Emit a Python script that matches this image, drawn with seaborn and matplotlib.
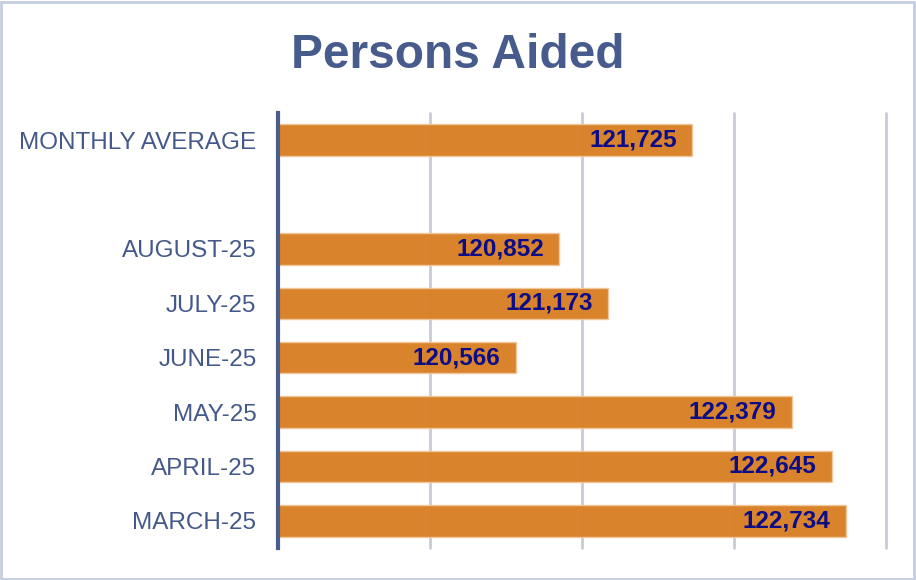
import pandas as pd
import matplotlib.pyplot as plt
import seaborn as sns

# data
months = ["MONTHLY AVERAGE", " ", "AUGUST-25", "JULY-25", "JUNE-25",
          "MAY-25", "APRIL-25", "MARCH-25"]
persons = [121725, None, 120852, 121173, 120566, 122379, 122645, 122734]
x_ticks = [119000, 120000, 121000, 122000, 123000]

df = pd.DataFrame({"month": months, "persons": persons}).dropna()

sns.set_theme(style="white")
plt.rcParams["font.family"] = ["Liberation Sans", "DejaVu Sans"]

navy = "#44598A"
fig = plt.figure(figsize=(9.16, 5.8), dpi=100)
ax = fig.add_axes([0.3035, 0.0552, 0.6637, 0.75])

sns.barplot(data=df, y="month", x="persons", order=months, orient="h",
            color="#D88026", saturation=1, width=0.58, alpha=0.97,
            edgecolor="#F2C79A", linewidth=1, ax=ax, zorder=2)

ax.set_xlim(x_ticks[0], x_ticks[-1])
ax.set_xticks(x_ticks)
ax.set_xticklabels([])
ax.set_ylim(7.5, -0.5)
ax.xaxis.grid(True, color="#CACBD6", linewidth=2, zorder=0)
for gl in ax.get_xgridlines():
    gl.set_clip_on(False)
ax.set_axisbelow(True)
ax.tick_params(axis="y", length=0, pad=15.5, labelsize=17.5, labelcolor=navy)
ax.tick_params(axis="x", length=0)
ax.set_xlabel("")
ax.set_ylabel("")

for s in ["top", "right", "bottom"]:
    ax.spines[s].set_visible(False)
ax.spines["left"].set_color("#4A5E8C")
ax.spines["left"].set_linewidth(3)

# value labels inside bar ends
for i, (m, v) in enumerate(zip(months, persons)):
    if v is None:
        continue
    ax.annotate(f"{v:,}", xy=(v, i), xytext=(-11, 0), textcoords="offset points",
                ha="right", va="center", fontsize=17.5, fontweight="bold",
                color="#0C0C86", zorder=5)

fig.text(0.5, 0.905, "Persons Aided", ha="center", va="center",
         fontsize=34.5, fontweight="bold", color="#475C8C")

# light frame round the figure
fig.patches.append(plt.Rectangle((0.001, 0.002), 0.997, 0.995, transform=fig.transFigure,
                                 fill=False, edgecolor="#C5CEE0", linewidth=2))

fig.savefig("out.png", dpi=100)
